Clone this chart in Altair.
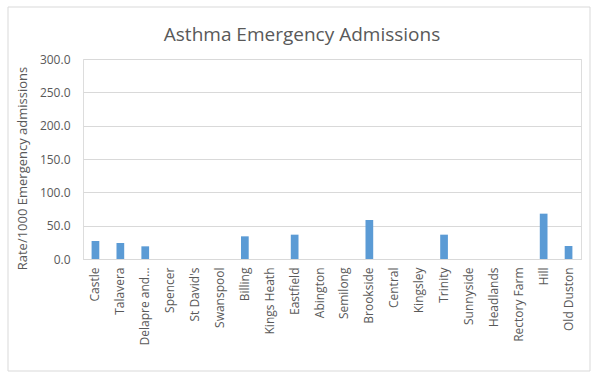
import altair as alt
import pandas as pd

# Asthma emergency admission rates per ward
wards = [
    "Castle", "Talavera", "Delapre and…", "Spencer", "St David's", "Swanspool",
    "Billing", "Kings Heath", "Eastfield", "Abington", "Semilong", "Brookside",
    "Central", "Kingsley", "Trinity", "Sunnyside", "Headlands", "Rectory Farm",
    "Hill", "Old Duston",
]
rates = [
    27.0, 24.0, 19.0, 0.0, 0.0, 0.0,
    34.0, 0.0, 36.5, 0.0, 0.0, 58.5,
    0.0, 0.0, 36.5, 0.0, 0.0, 0.0,
    68.0, 19.5,
]
y_ticks = [0, 50, 100, 150, 200, 250, 300]
chart_title = "Asthma Emergency Admissions"

df = pd.DataFrame({"ward": wards, "rate": rates})
single = pd.DataFrame({"k": [0]})

FONT = "Open Sans"
TEXT = "#595959"
GRID = "#D9D9D9"

bars = alt.Chart(df).mark_bar(
    color="#5B9BD5",
    width=alt.RelativeBandSize(0.31),
).encode(
    x=alt.X(
        "ward:N",
        sort=wards,
        scale=alt.Scale(paddingInner=0, paddingOuter=0),
        axis=alt.Axis(
            title=None,
            labelAngle=-90,
            labelAlign="right",
            labelBaseline="middle",
            labelPadding=8,
            labelFont=FONT,
            labelFontSize=12,
            labelColor=TEXT,
            ticks=False,
            domainColor=GRID,
            grid=False,
            labelLimit=200,
        ),
    ),
    y=alt.Y(
        "rate:Q",
        scale=alt.Scale(domain=[0, 300], nice=False),
        axis=alt.Axis(
            title="Rate/1000 Emergency admissions",
            titleFont=FONT,
            titleFontSize=13,
            titleFontWeight="normal",
            titleColor=TEXT,
            titleAngle=-90,
            titleX=-61,
            titleY=109,
            titleAlign="center",
            titleBaseline="middle",
            values=y_ticks,
            format=".1f",
            labelFont=FONT,
            labelFontSize=12,
            labelColor=TEXT,
            labelPadding=13,
            ticks=False,
            domain=False,
            gridColor=GRID,
            gridWidth=1,
        ),
    ),
)

# Outer chart frame (one row, drawn once)
frame = alt.Chart(single).mark_rect(
    fill=None, stroke=GRID, strokeWidth=1
).encode(
    x=alt.value(-75), x2=alt.value(507),
    y=alt.value(-52), y2=alt.value(312),
)

# Chart heading, centred on the outer frame
heading = alt.Chart(single).mark_text(
    font=FONT, fontSize=19, fontWeight="normal", color=TEXT,
    align="center", baseline="alphabetic",
).encode(
    x=alt.value(219), y=alt.value(-18), text=alt.value(chart_title),
)

chart = alt.layer(bars, frame, heading).properties(
    width=498,
    height=200,
    autosize=alt.AutoSizeParams(type="none"),
    padding={"left": 83, "top": 59, "right": 10, "bottom": 114},
).configure_view(stroke=None).configure(background="white")

chart.save("out.html", embed_options={"renderer": "svg", "actions": False})
